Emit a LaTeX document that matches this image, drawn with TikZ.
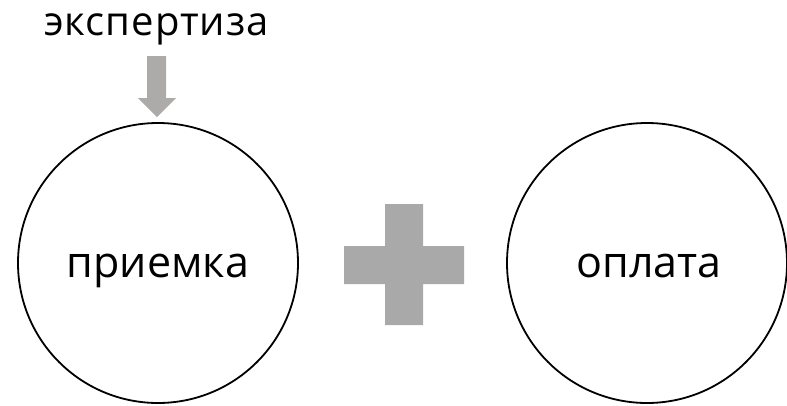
\documentclass[tikz,border=0pt]{standalone}
\usepackage{fontspec}
\setmainfont{Open Sans}
\definecolor{plusgray}{HTML}{A9A9A9}
\definecolor{arrowgray}{HTML}{ADAAAA}
\tikzset{
  circ/.style={circle, draw=black, line width=1.8pt, minimum size=280pt, inner sep=0pt},
  lbl/.style={inner sep=0pt, font=\fontsize{43}{50}\selectfont},
  toplbl/.style={inner sep=0pt, font=\fontsize{40}{46}\selectfont\addfontfeatures{LetterSpace=2.5}},
}
\begin{document}
\begin{tikzpicture}[x=1pt,y=-1pt]
\useasboundingbox (0,0) rectangle (787,405);
\node[circ] (pri) at (158,263) {};
\node[circ] (opl) at (647,263) {};
\node[lbl, anchor=base] (pritxt) at (158,277) {приемка};
\node[lbl, anchor=base] (opltxt) at (649,277) {оплата};
\node[toplbl, anchor=base] (exp) at (156.5,35) {экспертиза};
% arrow from label to circle
\coordinate (tip) at (157,117);
\fill[arrowgray] (147,56) -- (166,56) -- (166,98) -- (176,98) -- (tip) -- (138,98) -- (147,98) -- cycle;
% plus
\fill[plusgray] (385,204) -- (423,204) -- (423,246) -- (464,246) -- (464,284) -- (423,284) -- (423,325) -- (385,325) -- (385,284) -- (344,284) -- (344,246) -- (385,246) -- cycle;
\end{tikzpicture}
\end{document}
